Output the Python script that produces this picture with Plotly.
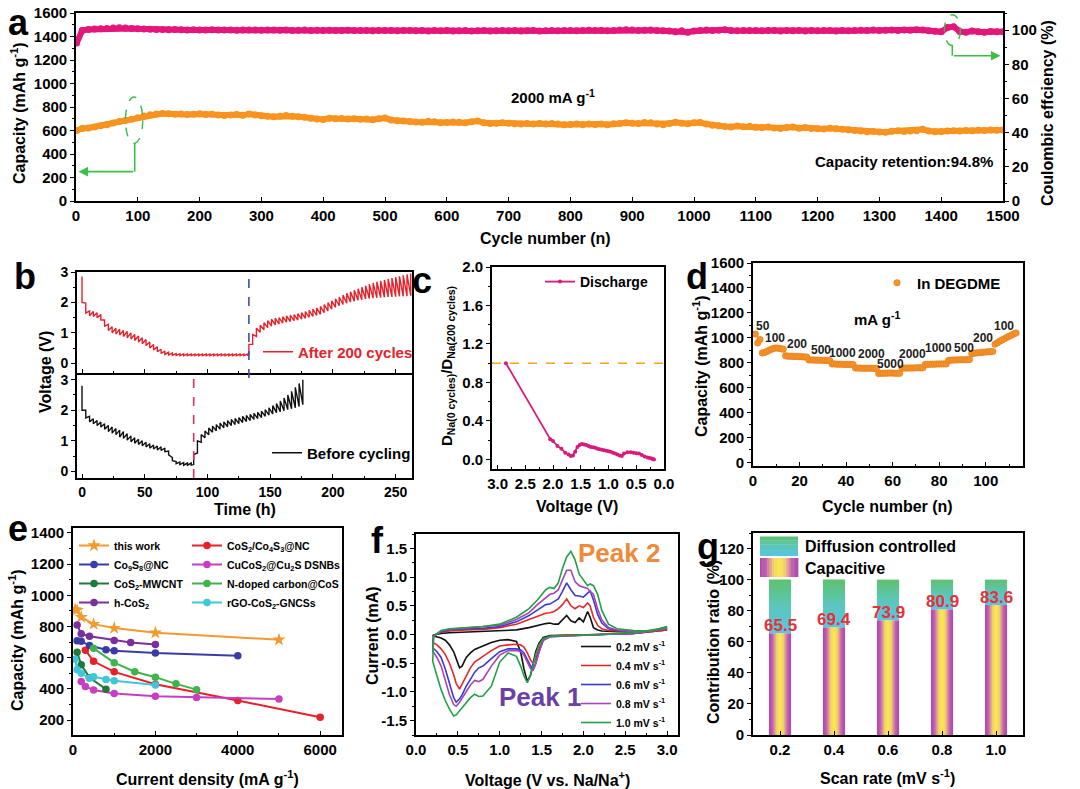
import plotly.graph_objects as go

W, H = 1080, 789
FONT = "Liberation Sans, Arial, sans-serif"


def X(p):
    return p / W


def Y(p):
    return 1 - p / H


# ---------------- DATA ----------------
# (a) long cycling at 2000 mA g-1
cycles_a = [1] + list(range(10, 1501, 10))
capacity_a = [
    600, 618, 622, 630, 640, 650, 664, 676, 686, 696,
    708, 724, 734, 740, 745, 742, 738, 741, 736, 739,
    742, 736, 738, 732, 728, 731, 736, 729, 741, 731,
    726, 722, 718, 721, 728, 722, 718, 712, 705, 698,
    694, 705, 700, 702, 697, 700, 695, 698, 692, 700,
    706, 690, 682, 680, 677, 672, 670, 678, 675, 665,
    668, 672, 670, 667, 675, 681, 665, 660, 662, 665,
    662, 658, 655, 660, 655, 660, 655, 660, 656, 650,
    652, 655, 650, 655, 652, 655, 650, 658, 660, 665,
    662, 660, 668, 665, 655, 650, 660, 670, 662, 658,
    665, 668, 655, 645, 640, 635, 630, 638, 632, 636,
    628, 625, 630, 622, 618, 625, 630, 620, 625, 618,
    615, 612, 620, 615, 610, 606, 600, 595, 590, 592,
    588, 586, 594, 598, 592, 595, 598, 610, 596, 590,
    592, 596, 598, 595, 600, 598, 602, 600, 605, 602,
    605]
ce_a = [
    92.5, 99.8, 100.4, 100.6, 100.8, 101.0, 101.2, 101.3, 101.2, 101.0,
    100.8, 100.6, 100.5, 100.4, 100.3, 100.2, 100.3, 100.2, 100.1, 100.2,
    100.1, 100.0, 100.2, 100.1, 100.0, 100.1, 99.9, 100.0, 100.1, 100.0,
    99.9, 100.0, 100.1, 99.9, 100.0, 99.8, 99.9, 100.0, 99.8, 99.9,
    99.8, 99.9, 99.7, 99.8, 99.9, 99.8, 99.7, 99.8, 99.6, 99.8,
    99.7, 99.8, 99.6, 99.7, 99.8, 99.6, 99.7, 99.5, 99.7, 99.6,
    99.7, 99.5, 99.6, 99.7, 99.5, 99.6, 99.7, 99.5, 99.6, 99.8,
    99.6, 99.7, 99.5, 99.6, 99.7, 99.5, 99.6, 99.8, 99.6, 99.7,
    99.8, 99.6, 99.7, 99.9, 99.7, 99.8, 99.6, 99.8, 100.0, 100.2,
    100.0, 99.8, 99.9, 100.1, 99.8, 99.6, 99.4, 99.0, 99.6, 98.8,
    99.5, 99.8, 100.0, 99.8, 99.9, 100.2, 99.8, 99.6, 99.8, 99.7,
    99.8, 99.6, 99.7, 99.8, 99.5, 99.7, 99.6, 99.8, 99.5, 99.7,
    99.6, 99.8, 99.7, 99.5, 99.8, 99.6, 99.7, 99.9, 99.8, 100.0,
    99.8, 99.9, 100.0, 99.8, 100.1, 99.9, 100.2, 100.0, 99.6, 99.3,
    99.0, 101.5, 102.0, 99.2, 98.8, 99.4, 99.0, 98.8, 99.2, 99.0,
    99.0]

# (b) GITT profiles
t_after_dis = list(range(0, 133, 3))
v_after_dis_hi = [2.85, 1.98, 1.72, 1.70, 1.66, 1.60, 1.42, 1.28, 1.20, 1.15,
                  1.12, 1.08, 1.05, 1.00, 0.95, 0.90, 0.84, 0.78, 0.70, 0.62,
                  0.54, 0.46, 0.40, 0.36, 0.34, 0.32, 0.31, 0.31, 0.30, 0.30,
                  0.30, 0.30, 0.30, 0.30, 0.30, 0.30, 0.30, 0.30, 0.30, 0.30,
                  0.30, 0.30, 0.30, 0.30, 0.30]
v_after_dis_lo = [2.00, 1.65, 1.56, 1.54, 1.50, 1.42, 1.22, 1.08, 1.00, 0.96,
                  0.93, 0.88, 0.84, 0.80, 0.75, 0.70, 0.64, 0.58, 0.50, 0.44,
                  0.38, 0.32, 0.29, 0.27, 0.26, 0.26, 0.25, 0.25, 0.25, 0.25,
                  0.25, 0.25, 0.25, 0.25, 0.25, 0.25, 0.25, 0.25, 0.25, 0.25,
                  0.25, 0.25, 0.25, 0.25, 0.25]
t_after_chg = list(range(133, 263, 3))
v_after_chg_lo = [0.28, 0.62, 0.88, 1.02, 1.10, 1.17, 1.22, 1.26, 1.29, 1.32,
                  1.35, 1.37, 1.40, 1.42, 1.45, 1.48, 1.51, 1.54, 1.57, 1.61,
                  1.66, 1.72, 1.78, 1.84, 1.89, 1.93, 1.97, 2.01, 2.04, 2.07,
                  2.09, 2.11, 2.13, 2.14, 2.15, 2.16, 2.17, 2.18, 2.18, 2.19,
                  2.20, 2.20, 2.21, 2.22]
v_after_chg_hi = [0.62, 0.95, 1.15, 1.25, 1.33, 1.40, 1.45, 1.48, 1.50, 1.53,
                  1.56, 1.58, 1.60, 1.63, 1.66, 1.70, 1.74, 1.78, 1.82, 1.87,
                  1.93, 1.99, 2.05, 2.12, 2.18, 2.24, 2.30, 2.35, 2.40, 2.45,
                  2.50, 2.55, 2.60, 2.64, 2.68, 2.71, 2.74, 2.77, 2.80, 2.83,
                  2.86, 2.89, 2.92, 2.95]
t_before_dis = list(range(0, 88, 3))
v_before_dis_hi = [2.80, 2.00, 1.80, 1.72, 1.66, 1.61, 1.56, 1.50, 1.45, 1.40,
                   1.35, 1.30, 1.23, 1.16, 1.10, 1.05, 1.00, 0.95, 0.90, 0.86,
                   0.83, 0.80, 0.76, 0.66, 0.45, 0.32, 0.30, 0.28, 0.27, 0.27]
v_before_dis_lo = [2.00, 1.75, 1.62, 1.56, 1.50, 1.45, 1.38, 1.30, 1.25, 1.20,
                   1.12, 1.08, 1.02, 0.97, 0.92, 0.88, 0.84, 0.80, 0.76, 0.73,
                   0.70, 0.68, 0.64, 0.54, 0.35, 0.25, 0.22, 0.20, 0.20, 0.20]
t_before_chg = list(range(89, 179, 3))
v_before_chg_lo = [0.22, 0.60, 0.95, 1.10, 1.20, 1.28, 1.33, 1.38, 1.42, 1.46,
                   1.50, 1.53, 1.56, 1.60, 1.63, 1.66, 1.70, 1.73, 1.76, 1.80,
                   1.84, 1.88, 1.92, 1.95, 1.98, 2.02, 2.05, 2.08, 2.12, 2.18]
v_before_chg_hi = [0.55, 1.00, 1.20, 1.32, 1.42, 1.48, 1.53, 1.58, 1.62, 1.66,
                   1.70, 1.73, 1.76, 1.80, 1.83, 1.86, 1.90, 1.93, 1.97, 2.02,
                   2.08, 2.15, 2.22, 2.30, 2.40, 2.50, 2.62, 2.75, 2.88, 3.00]

# (c) diffusion coefficient ratio
c_voltage = [2.85, 2.05, 2.0, 1.92, 1.85, 1.78, 1.72, 1.68, 1.64, 1.6,
             1.56, 1.52, 1.48, 1.44, 1.4, 1.36, 1.32, 1.28, 1.24, 1.2,
             1.16, 1.12, 1.08, 1.04, 1.0, 0.96, 0.92, 0.88, 0.84, 0.8,
             0.76, 0.72, 0.66, 0.6, 0.55, 0.5, 0.45, 0.4, 0.35, 0.3,
             0.26, 0.22, 0.2, 0.18]
c_ratio = [1.0, 0.21, 0.19, 0.14, 0.11, 0.07, 0.05, 0.035, 0.04, 0.08,
           0.13, 0.15, 0.16, 0.155, 0.15, 0.14, 0.13, 0.125, 0.12, 0.11,
           0.105, 0.1, 0.095, 0.09, 0.085, 0.08, 0.07, 0.06, 0.05, 0.04,
           0.035, 0.06, 0.075, 0.075, 0.07, 0.065, 0.06, 0.045, 0.03, 0.02,
           0.015, 0.008, 0.004, 0.0]

# (d) rate performance
cycles_d = list(range(1, 114))
capacity_d = [1030, 958, 985,
              878, 882, 890, 900, 908, 915, 918, 916, 912, 908,
              855, 852, 852, 850, 850, 850, 848, 848, 846, 846,
              822, 822, 821, 820, 820, 820, 818, 818, 818, 816,
              790, 790, 788, 788, 788, 786, 786, 786, 785, 785,
              757, 756, 756, 755, 755, 754, 754, 754, 753, 753,
              712, 714, 715, 715, 716, 716, 716, 715, 715, 714,
              755, 756, 756, 757, 757, 757, 758, 758, 758, 758,
              785, 786, 787, 788, 788, 789, 789, 790, 790, 790,
              818, 820, 821, 822, 822, 823, 823, 824, 824, 825,
              872, 876, 878, 880, 882, 884, 885, 887, 888, 890,
              948, 960, 972, 982, 992, 1002, 1012, 1020, 1030, 1038]
d_rate_labels = ["50", "100", "200", "500", "1000", "2000", "5000",
                 "2000", "1000", "500", "200", "100"]

# (e) comparison with literature
e_names = ["this work", "CoS<sub>2</sub>/Co<sub>4</sub>S<sub>3</sub>@NC",
           "Co<sub>9</sub>S<sub>8</sub>@NC", "CuCoS<sub>2</sub>@Cu<sub>2</sub>S DSNBs",
           "CoS<sub>2</sub>-MWCNT", "N-doped carbon@CoS",
           "h-CoS<sub>2</sub>", "rGO-CoS<sub>2</sub>-GNCSs"]
e_x = [
    [50, 100, 200, 500, 1000, 2000, 5000],
    [300, 500, 1000, 2000, 4000, 6000],
    [100, 200, 400, 800, 1000, 2000, 4000],
    [200, 300, 500, 1000, 2000, 3000, 5000],
    [100, 200, 400, 800],
    [500, 1000, 1500, 2000, 2500, 3000],
    [100, 200, 400, 1000, 1400, 2000],
    [50, 100, 200, 400, 500, 800, 1000, 2000],
]
e_y = [
    [910, 905, 860, 815, 790, 760, 715],
    [648, 577, 509, 430, 325, 218],
    [708, 705, 678, 651, 645, 630, 613],
    [447, 415, 392, 370, 352, 345, 335],
    [635, 555, 472, 398],
    [660, 568, 510, 475, 432, 395],
    [810, 753, 738, 711, 697, 685],
    [590, 522, 500, 468, 478, 460, 452, 425],
]

# (f) CV curves
f_labels = ["0.2 mV s<sup>-1</sup>", "0.4 mV s<sup>-1</sup>", "0.6 mV s<sup>-1</sup>",
            "0.8 mV s<sup>-1</sup>", "1.0 mV s<sup>-1</sup>"]
f_v_red = [3.0, 2.6, 2.2, 1.8, 1.6, 1.52, 1.47, 1.43, 1.40, 1.37, 1.33, 1.29, 1.25,
           1.2, 1.1, 1.0, 0.9, 0.8, 0.75, 0.7, 0.65, 0.6, 0.55, 0.52, 0.48, 0.45,
           0.4, 0.35, 0.3, 0.25, 0.2]
f_i_red = [
    [0.08, 0.02, 0.0, -0.01, -0.02, -0.05, -0.15, -0.3, -0.5, -0.7, -0.82, -0.6, -0.3,
     -0.12, -0.09, -0.1, -0.14, -0.2, -0.22, -0.26, -0.32, -0.4, -0.55, -0.58, -0.42, -0.3,
     -0.18, -0.1, -0.06, -0.04, -0.02],
    [0.08, 0.02, 0.0, -0.01, -0.03, -0.08, -0.25, -0.42, -0.5, -0.45, -0.32, -0.22, -0.18,
     -0.17, -0.18, -0.2, -0.28, -0.38, -0.42, -0.48, -0.58, -0.72, -0.88, -0.95, -0.85, -0.7,
     -0.5, -0.35, -0.25, -0.18, -0.14],
    [0.1, 0.02, 0.0, -0.02, -0.04, -0.1, -0.3, -0.5, -0.6, -0.55, -0.42, -0.32, -0.27,
     -0.25, -0.25, -0.3, -0.42, -0.55, -0.58, -0.66, -0.78, -0.9, -1.05, -1.12, -1.18, -1.1,
     -0.85, -0.6, -0.4, -0.3, -0.23],
    [0.1, 0.02, 0.0, -0.02, -0.04, -0.1, -0.3, -0.52, -0.62, -0.6, -0.48, -0.36, -0.3,
     -0.28, -0.28, -0.36, -0.55, -0.78, -0.82, -0.8, -0.88, -1.0, -1.12, -1.18, -1.25, -1.22,
     -1.05, -0.8, -0.55, -0.4, -0.29],
    [0.12, 0.03, 0.0, -0.02, -0.03, -0.07, -0.18, -0.35, -0.55, -0.7, -0.84, -0.72, -0.55,
     -0.38, -0.32, -0.48, -0.9, -1.07, -1.08, -1.04, -1.1, -1.19, -1.28, -1.33, -1.4, -1.42,
     -1.3, -1.15, -0.96, -0.72, -0.47],
]
f_v_ox = [0.21, 0.3, 0.4, 0.6, 0.8, 1.0, 1.2, 1.35, 1.45, 1.55, 1.6, 1.65, 1.7, 1.75,
          1.8, 1.85, 1.9, 1.95, 2.0, 2.05, 2.08, 2.12, 2.17, 2.22, 2.3, 2.4, 2.6, 2.8, 3.0]
f_i_ox = [
    [-0.01, 0.02, 0.03, 0.04, 0.05, 0.06, 0.08, 0.12, 0.16, 0.19, 0.2, 0.18, 0.18, 0.25,
     0.33, 0.24, 0.21, 0.29, 0.22, 0.4, 0.3, 0.12, 0.08, 0.06, 0.05, 0.05, 0.05, 0.06, 0.1],
    [-0.02, 0.04, 0.06, 0.08, 0.09, 0.12, 0.18, 0.26, 0.32, 0.37, 0.38, 0.4, 0.45, 0.52,
     0.62, 0.5, 0.45, 0.5, 0.47, 0.55, 0.5, 0.3, 0.16, 0.1, 0.07, 0.06, 0.05, 0.06, 0.1],
    [-0.02, 0.05, 0.08, 0.1, 0.11, 0.14, 0.22, 0.33, 0.42, 0.52, 0.53, 0.57, 0.62, 0.75,
     0.9, 0.78, 0.68, 0.67, 0.65, 0.72, 0.76, 0.6, 0.35, 0.2, 0.1, 0.07, 0.05, 0.06, 0.12],
    [-0.03, 0.06, 0.09, 0.11, 0.13, 0.16, 0.26, 0.38, 0.52, 0.65, 0.7, 0.72, 0.78, 0.95,
     1.12, 1.12, 0.92, 0.85, 0.82, 0.8, 0.75, 0.7, 0.45, 0.25, 0.12, 0.08, 0.05, 0.06, 0.13],
    [-0.03, 0.07, 0.1, 0.12, 0.14, 0.18, 0.3, 0.45, 0.6, 0.78, 0.82, 0.8, 0.9, 1.15,
     1.35, 1.45, 1.3, 1.05, 0.95, 0.85, 0.88, 0.85, 0.7, 0.42, 0.18, 0.1, 0.07, 0.06, 0.14],
]
f_yticks = [-1.5, -1.0, -0.5, 0.0, 0.5, 1.0, 1.5]
f_yticklabels = ["-1.5", "-1.0", "-0.5", "0.0", "0.5", "1.0", "1.5"]

# (g) contribution ratio
g_rates = [0.2, 0.4, 0.6, 0.8, 1.0]
g_rate_labels = ["0.2", "0.4", "0.6", "0.8", "1.0"]
g_capacitive = [65.5, 69.4, 73.9, 80.9, 83.6]
g_diffusion = [34.5, 30.6, 26.1, 19.1, 16.4]

# ---------------- STYLE ----------------
ORANGE = "#F7931E"
PINK = "#E4157B"
GREEN_ANN = "#3DBE48"
e_colors = ["#F39A2E", "#E8202A", "#3B3BA8", "#C63FC3", "#1E7A3A", "#3DB54A", "#7B2F9B", "#3FC6DA"]
e_symbols = ["star", "circle", "circle", "circle", "circle", "circle", "circle", "circle"]
f_colors = ["#111111", "#E62828", "#3A3AD0", "#A844B8", "#22A045"]
cap_scale = [[0, "#A64CA6"], [0.15, "#C25AB8"], [0.35, "#F0D070"], [0.5, "#FBEA48"],
             [0.65, "#F0D070"], [0.85, "#C25AB8"], [1, "#A64CA6"]]
dif_scale = [[0, "#58C6E2"], [0.5, "#5CC6BA"], [1, "#5EC16E"]]

TF = dict(family=FONT, size=15, color="black", weight="bold")
TF14 = dict(family=FONT, size=14, color="black", weight="bold")

fig = go.Figure()

# (a)
fig.add_trace(go.Scatter(x=cycles_a, y=capacity_a, xaxis="x", yaxis="y", mode="lines+markers",
                         line=dict(color=ORANGE, width=6), marker=dict(size=7, color=ORANGE),
                         showlegend=False))
fig.add_trace(go.Scatter(x=cycles_a, y=ce_a, xaxis="x", yaxis="y2", mode="lines+markers",
                         line=dict(color=PINK, width=6), marker=dict(size=7, color=PINK),
                         showlegend=False))


# (b)
def gitt_path(t_d, hi_d, lo_d, t_c, lo_c, hi_c):
    xs, ys = [], []
    for t, h, l in zip(t_d, hi_d, lo_d):
        xs += [t, t]
        ys += [h, l]
    for t, l, h in zip(t_c, lo_c, hi_c):
        xs += [t, t]
        ys += [l, h]
    return xs, ys


bx, by = gitt_path(t_after_dis, v_after_dis_hi, v_after_dis_lo, t_after_chg, v_after_chg_lo, v_after_chg_hi)
fig.add_trace(go.Scatter(x=bx, y=by, xaxis="x2", yaxis="y3", mode="lines",
                         line=dict(color="#E8202A", width=1.4), name="After 200 cycles",
                         legend="legend3"))
bx, by = gitt_path(t_before_dis, v_before_dis_hi, v_before_dis_lo, t_before_chg, v_before_chg_lo, v_before_chg_hi)
fig.add_trace(go.Scatter(x=bx, y=by, xaxis="x3", yaxis="y4", mode="lines",
                         line=dict(color="#111111", width=1.4), name="Before cycling",
                         legend="legend4"))

# (c)
fig.add_trace(go.Scatter(x=c_voltage, y=c_ratio, xaxis="x4", yaxis="y5", mode="lines+markers",
                         line=dict(color="#D81B7A", width=1.8), marker=dict(size=4, color="#D81B7A"),
                         name="Discharge", legend="legend5"))

# (d)
fig.add_trace(go.Scatter(x=cycles_d, y=capacity_d, xaxis="x5", yaxis="y6", mode="markers",
                         marker=dict(size=6.5, color="#F5922A", line=dict(color="#E07810", width=0.5)),
                         name="In DEGDME", legend="legend6"))

# (e)
for i, (nm, xs, ys) in enumerate(zip(e_names, e_x, e_y)):
    fig.add_trace(go.Scatter(x=xs, y=ys, xaxis="x6", yaxis="y7", mode="lines+markers",
                             line=dict(color=e_colors[i], width=2),
                             marker=dict(symbol=e_symbols[i], size=10 if i == 0 else 7.5, color=e_colors[i]),
                             name=nm, legend="legend" if i % 2 == 0 else "legend2"))

# (f)
for i in range(5):
    fig.add_trace(go.Scatter(x=f_v_red + f_v_ox, y=f_i_red[i] + f_i_ox[i], xaxis="x7", yaxis="y8",
                             mode="lines", line=dict(color=f_colors[i], width=1.6),
                             name=f_labels[i], legend="legend7"))

# (g)
BW = 0.082
for xc, cp, df in zip(g_rates, g_capacitive, g_diffusion):
    x0, x1 = xc - BW / 2, xc + BW / 2
    fig.add_trace(go.Scatter(x=[x0, x1, x1, x0, x0], y=[0, 0, cp, cp, 0], xaxis="x8", yaxis="y9",
                             fill="toself", mode="lines", line=dict(width=0, color="rgba(0,0,0,0)"),
                             fillgradient=dict(type="horizontal", colorscale=cap_scale),
                             showlegend=False, hoverinfo="skip"))
    fig.add_trace(go.Scatter(x=[x0, x1, x1, x0, x0], y=[cp, cp, cp + df, cp + df, cp], xaxis="x8", yaxis="y9",
                             fill="toself", mode="lines", line=dict(width=0, color="rgba(0,0,0,0)"),
                             fillgradient=dict(type="vertical", colorscale=dif_scale),
                             showlegend=False, hoverinfo="skip"))


# ---------------- AXES ----------------
def axis(domain, rng, anchor, ticks="outside", minor=None, **kw):
    d = dict(domain=domain, range=rng, anchor=anchor, showline=True, linecolor="black", linewidth=1.6,
             mirror=True, ticks=ticks, ticklen=4, tickwidth=1.3, tickcolor="black", showgrid=False,
             zeroline=False, tickfont=TF, automargin=False)
    if minor is not None:
        d["minor"] = dict(dtick=minor, ticks=ticks, ticklen=2.5, tickwidth=1, tickcolor="black", showgrid=False)
    d.update(kw)
    return d


layout_axes = dict(
    xaxis=axis([X(76), X(1003)], [0, 1500], "y", ticks="inside", dtick=100, tick0=0),
    yaxis=axis([Y(201), Y(13)], [0, 1600], "x", minor=100, dtick=200, tick0=0),
    yaxis2=axis([Y(201), Y(13)], [0, 110], "x", minor=10, dtick=20, tick0=0, overlaying="y", side="right",
                mirror=False),
    xaxis2=axis([X(77), X(412)], [-4, 263], "y3", ticks="inside", minor=25, dtick=50, tick0=0,
                showticklabels=False),
    yaxis3=axis([Y(373), Y(272)], [-0.32, 3.0], "x2", minor=0.5, dtick=1, tick0=0, tickfont=TF14),
    xaxis3=axis([X(77), X(412)], [-4, 263], "y4", ticks="inside", minor=25, dtick=50, tick0=0, mirror=False,
                tickfont=TF14),
    yaxis4=axis([Y(478), Y(373)], [-0.22, 3.22], "x3", minor=0.5, dtick=1, tick0=0, tickfont=TF14),
    xaxis4=axis([X(492), X(664)], [3.1, 0.0], "y5", ticks="inside", minor=0.25, dtick=0.5, tick0=0,
                tickformat=".1f"),
    yaxis5=axis([Y(469), Y(267)], [-0.1, 2.0], "x4", minor=0.2, dtick=0.4, tick0=0, tickformat=".1f"),
    xaxis5=axis([X(753), X(1023)], [0, 116], "y6", ticks="inside", minor=10, dtick=20, tick0=0),
    yaxis6=axis([Y(466), Y(263)], [-30, 1600], "x5", minor=100, dtick=200, tick0=0),
    xaxis6=axis([X(73), X(342)], [0, 6530], "y7", ticks="inside", minor=1000, dtick=2000, tick0=0),
    yaxis7=axis([Y(735), Y(528)], [104, 1432], "x6", minor=100, dtick=200, tick0=0),
    xaxis7=axis([X(416), X(678)], [0, 3.13], "y8", ticks="inside", minor=0.25, dtick=0.5, tick0=0,
                tickformat=".1f"),
    yaxis8=axis([Y(735), Y(534)], [-1.75, 1.75], "x7", minor=0.25, tickvals=f_yticks, ticktext=f_yticklabels),
    xaxis8=axis([X(753), X(1023)], [0.1, 1.1], "y9", ticks="inside", tickvals=g_rates, ticktext=g_rate_labels),
    yaxis9=axis([Y(735), Y(533)], [0, 130], "x8", minor=10, dtick=20, tick0=0),
)


# ---------------- ANNOTATIONS ----------------
def ann(text, x, y, size=16, color="black", angle=0, xanchor="center", yanchor="middle"):
    return dict(text=text, x=X(x), y=Y(y), xref="paper", yref="paper", showarrow=False, textangle=angle,
                font=dict(family=FONT, size=size, color=color, weight="bold"), xanchor=xanchor,
                yanchor=yanchor)


annotations = [
    ann("a", 18, 22, 36), ann("b", 25, 276, 36), ann("c", 422, 280, 36), ann("d", 697, 277, 36),
    ann("e", 18, 528, 36), ann("f", 377, 540, 36), ann("g", 708, 546, 36),
    ann("Cycle number (n)", 545, 238, 16),
    ann("Capacity (mAh g<sup>-1</sup>)", 18, 113, 16, angle=-90),
    ann("Coulombic effciency (%)", 1048, 113, 16, angle=-90),
    ann("2000 mA g<sup>-1</sup>", 553, 97, 15),
    ann("Capacity retention:94.8%", 995, 162, 15, xanchor="right"),
    ann("Voltage (V)", 45, 372, 16, angle=-90),
    ann("Time (h)", 245, 509, 16),
    ann("D<sub>Na(0 cycles)</sub>/D<sub>Na(200 cycles)</sub>", 447, 366, 15, angle=-90),
    ann("Voltage (V)", 577, 506, 16),
    ann("Capacity (mAh g<sup>-1</sup>)", 700, 366, 16, angle=-90),
    ann("Cycle number (n)", 887, 506, 16),
    ann("mA g<sup>-1</sup>", 877, 318, 15),
    ann("Capacity (mAh g<sup>-1</sup>)", 16, 640, 16, angle=-90),
    ann("Current density (mA g<sup>-1</sup>)", 207, 778, 16),
    ann("Current (mA)", 372, 636, 16, angle=-90),
    ann("Voltage (V vs. Na/Na<sup>+</sup>)", 547, 779, 16),
    ann("Peak 2", 619, 553, 26, color="#EE8A3A"),
    ann("Peak 1", 540, 697, 26, color="#6B3FA6"),
    ann("Contribution ratio (%)", 713, 642, 16, angle=-90),
    ann("Scan rate (mV s<sup>-1</sup>)", 887, 777, 16),
    ann("Diffusion controlled", 803, 546, 16, xanchor="left"),
    ann("Capacitive", 803, 568, 16, xanchor="left"),
]

# rate labels in (d)
d_label_pos = [(4.3, 1098), (9.3, 997), (19, 948), (29, 902), (38.6, 875), (50.7, 867), (59, 791),
               (68.6, 867), (79.7, 916), (90.7, 916), (99, 997), (107.9, 1092)]
for lab, (lx, ly) in zip(d_rate_labels, d_label_pos):
    annotations.append(dict(text=lab, x=lx, y=ly, xref="x5", yref="y6", showarrow=False,
                            font=dict(family=FONT, size=12, color="#222222", weight="bold")))

# value labels in (g)
for xc, cp in zip(g_rates, g_capacitive):
    annotations.append(dict(text="%.1f" % cp, x=xc, y=cp + 5, xref="x8", yref="y9", showarrow=False,
                            font=dict(family=FONT, size=17, color="#E8303A", weight="bold")))

# green arrows in (a)
annotations.append(dict(text="", x=4, y=250, xref="x", yref="y", ax=95, ay=250, axref="x", ayref="y",
                        showarrow=True, arrowhead=2, arrowsize=1.2, arrowwidth=1.6, arrowcolor=GREEN_ANN))
annotations.append(dict(text="", x=1496, y=85, xref="x", yref="y2", ax=1418, ay=85, axref="x", ayref="y2",
                        showarrow=True, arrowhead=2, arrowsize=1.2, arrowwidth=1.6, arrowcolor=GREEN_ANN))

# ---------------- SHAPES ----------------
shapes = [
    dict(type="circle", xref="x", yref="y", x0=80, x1=108, y0=490, y1=885,
         line=dict(color=GREEN_ANN, width=1.4, dash="dash")),
    dict(type="line", xref="x", yref="y", x0=95, x1=95, y0=490, y1=250,
         line=dict(color=GREEN_ANN, width=1.6)),
    dict(type="circle", xref="x", yref="y2", x0=1405, x1=1431, y0=91, y1=109,
         line=dict(color=GREEN_ANN, width=1.4, dash="dash")),
    dict(type="line", xref="x", yref="y2", x0=1418, x1=1418, y0=91, y1=85,
         line=dict(color=GREEN_ANN, width=1.6)),
    dict(type="line", xref="x2", yref="paper", x0=133, x1=133, y0=Y(378), y1=Y(272),
         line=dict(color="#3A4FB0", width=1.6, dash="dash")),
    dict(type="line", xref="x3", yref="paper", x0=89, x1=89, y0=Y(478), y1=Y(373),
         line=dict(color="#E0306A", width=1.6, dash="dash")),
    dict(type="line", xref="x4 domain", yref="y5", x0=0, x1=1, y0=1.0, y1=1.0,
         line=dict(color="#F5A623", width=1.6, dash="dash")),
]


def hex2rgb(h):
    h = h.lstrip("#")
    return tuple(int(h[i:i + 2], 16) for i in (0, 2, 4))


def interp(scale, f):
    for (a, ca), (b, cb) in zip(scale[:-1], scale[1:]):
        if a <= f <= b:
            t = (f - a) / (b - a) if b > a else 0
            r = [round(p + (q - p) * t) for p, q in zip(hex2rgb(ca), hex2rgb(cb))]
            return "rgb(%d,%d,%d)" % tuple(r)
    return scale[-1][1]


# gradient swatches of the (g) legend
n = 16
for k in range(n):
    xa = 760 + 38 * k / n
    xb = 760 + 38 * (k + 1) / n + 0.4
    shapes.append(dict(type="rect", xref="paper", yref="paper", x0=X(xa), x1=X(xb), y0=Y(577), y1=Y(558),
                       fillcolor=interp(cap_scale, (k + 0.5) / n), line=dict(width=0), layer="above"))
n = 10
for k in range(n):
    ya = 556 - 19 * k / n
    yb = 556 - 19 * (k + 1) / n - 0.4
    shapes.append(dict(type="rect", xref="paper", yref="paper", x0=X(760), x1=X(798), y0=Y(ya), y1=Y(yb),
                       fillcolor=interp(dif_scale, (k + 0.5) / n), line=dict(width=0), layer="above"))


def leg(x, y, size, color="black", yanchor="top"):
    return dict(x=X(x), y=Y(y), xanchor="left", yanchor=yanchor, bgcolor="rgba(0,0,0,0)", borderwidth=0,
                font=dict(family=FONT, size=size, color=color, weight="bold"), itemwidth=30,
                tracegroupgap=0, traceorder="normal")


fig.update_layout(
    width=W, height=H, autosize=False,
    margin=dict(l=0, r=0, t=0, b=0, pad=0, autoexpand=False),
    paper_bgcolor="white", plot_bgcolor="white",
    font=dict(family=FONT, color="black"),
    annotations=annotations, shapes=shapes,
    legend=leg(74, 531, 10.5),
    legend2=leg(187, 531, 10.5),
    legend3=leg(258, 352, 15, color="#E8202A", yanchor="middle"),
    legend4=leg(267, 453, 15, yanchor="middle"),
    legend5=leg(540, 282, 14, yanchor="middle"),
    legend6=leg(877, 283, 15, yanchor="middle"),
    legend7=leg(576, 632, 10.5),
)
fig.update_layout(**layout_axes)

fig.write_html("out.html", config={"displayModeBar": False},
               post_script="document.body.style.margin='0px';document.body.style.overflow='hidden';")
